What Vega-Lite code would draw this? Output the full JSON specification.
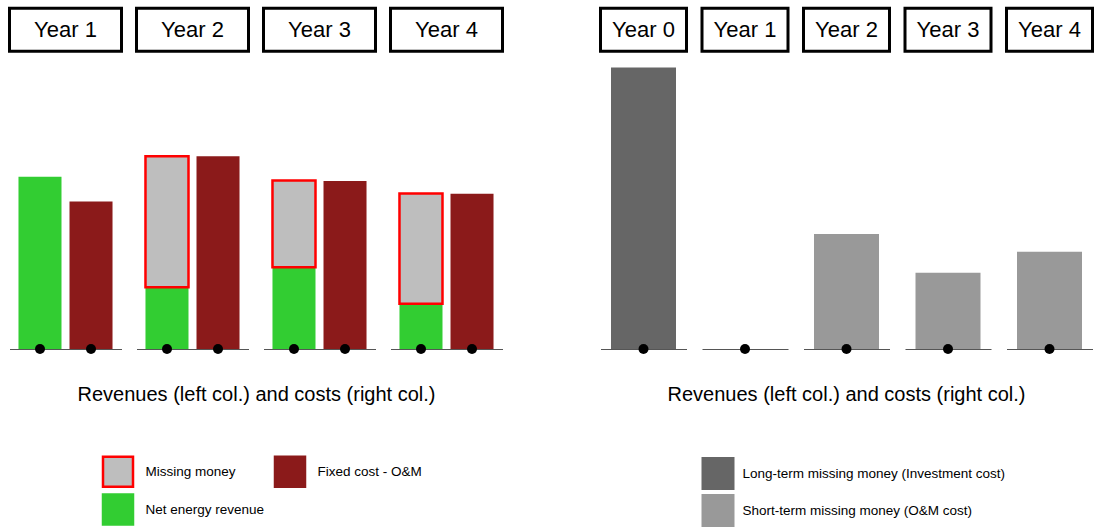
{
  "$schema": "https://vega.github.io/schema/vega-lite/v6.json",
  "padding": {"left": 7.5, "top": 2, "right": 0, "bottom": 0},
  "background": "white",
  "config": {
    "view": {"stroke": null},
    "font": "Liberation Sans"
  },
  "datasets": {
    "left": [
      {"year": "Year 1", "col": "Revenue", "type": "Net energy revenue", "value": 89.4},
      {"year": "Year 1", "col": "Cost", "type": "Fixed cost - O&M", "value": 76.5},
      {"year": "Year 2", "col": "Revenue", "type": "Net energy revenue", "value": 32},
      {"year": "Year 2", "col": "Revenue", "type": "Missing money", "value": 68},
      {"year": "Year 2", "col": "Cost", "type": "Fixed cost - O&M", "value": 100},
      {"year": "Year 3", "col": "Revenue", "type": "Net energy revenue", "value": 42.4},
      {"year": "Year 3", "col": "Revenue", "type": "Missing money", "value": 45},
      {"year": "Year 3", "col": "Cost", "type": "Fixed cost - O&M", "value": 87.2},
      {"year": "Year 4", "col": "Revenue", "type": "Net energy revenue", "value": 23.5},
      {"year": "Year 4", "col": "Revenue", "type": "Missing money", "value": 57.2},
      {"year": "Year 4", "col": "Cost", "type": "Fixed cost - O&M", "value": 80.5}
    ],
    "right": [
      {"year": "Year 0", "col": "Missing", "type": "Long-term missing money (Investment cost)", "value": 146},
      {"year": "Year 1", "col": "Missing", "type": "Short-term missing money (O&M cost)", "value": 0},
      {"year": "Year 2", "col": "Missing", "type": "Short-term missing money (O&M cost)", "value": 59.7},
      {"year": "Year 3", "col": "Missing", "type": "Short-term missing money (O&M cost)", "value": 39.5},
      {"year": "Year 4", "col": "Missing", "type": "Short-term missing money (O&M cost)", "value": 50.4}
    ]
  },
  "hconcat": [
    {
      "data": {"name": "left"},
      "facet": {
        "column": {
          "field": "year", "type": "nominal",
          "title": "Revenues (left col.) and costs (right col.)",
          "header": {"labels": false, "titleOrient": "bottom", "titleFontSize": 20, "titleFontWeight": "normal", "titleColor": "black", "titleFont": "Liberation Sans", "titlePadding": 26}
        }
      },
      "spacing": 15,
      "bounds": "flush",
      "spec": {
        "width": 112,
        "height": 347,
        "layer": [
          {
            "mark": {"type": "bar"},
            "encoding": {
              "x": {"field": "col", "type": "nominal", "sort": ["Revenue", "Cost"],
                    "scale": {"paddingInner": 0.157, "paddingOuter": 0.176},
                    "axis": {"title": null, "labels": false, "ticks": false, "domain": true, "domainColor": "#555555", "domainWidth": 1.2, "grid": false}},
              "y": {"field": "value", "type": "quantitative", "stack": "zero", "scale": {"domain": [0, 180]}, "axis": null},
              "fill": {"field": "type", "type": "nominal",
                       "scale": {"domain": ["Missing money", "Fixed cost - O&M", "Net energy revenue"], "range": ["#BEBEBE", "#8B1A1A", "#32CD32"]},
                       "legend": {"title": null, "orient": "none", "legendX": 92, "legendY": 453, "direction": "horizontal", "columns": 2, "symbolType": "square", "symbolSize": 900, "symbolStrokeWidth": 2.5, "labelFontSize": 13.5, "labelFont": "Liberation Sans", "labelColor": "black", "labelOffset": 11, "labelLimit": 400, "rowPadding": -3, "columnPadding": 5}},
              "stroke": {"field": "type", "type": "nominal",
                         "scale": {"domain": ["Missing money", "Fixed cost - O&M", "Net energy revenue"], "range": ["#FF0000", "#8B1A1A", "#32CD32"]},
                         "legend": {"title": null, "orient": "none", "legendX": 92, "legendY": 453, "direction": "horizontal", "columns": 2, "symbolType": "square", "symbolSize": 900, "symbolStrokeWidth": 2.5, "labelFontSize": 13.5, "labelFont": "Liberation Sans", "labelColor": "black", "labelOffset": 11, "labelLimit": 400, "rowPadding": -3, "columnPadding": 5}},
              "strokeWidth": {"condition": {"test": "datum.type === 'Missing money'", "value": 2.5}, "value": 0},
              "order": {"field": "type", "sort": "descending"}
            }
          },
          {
            "transform": [{"filter": "datum.type !== 'Missing money'"}],
            "mark": {"type": "point", "filled": true, "color": "black", "size": 100, "opacity": 1},
            "encoding": {
              "x": {"field": "col", "type": "nominal", "sort": ["Revenue", "Cost"]},
              "y": {"datum": 0, "type": "quantitative"}
            }
          },
          {
            "transform": [{"filter": "datum.type === 'Fixed cost - O&M'"}],
            "mark": {"type": "rect", "fill": "white", "stroke": "black", "strokeWidth": 3},
            "encoding": {
              "y": {"datum": 154.5, "type": "quantitative"},
              "y2": {"datum": 176.8}
            }
          },
          {
            "transform": [{"filter": "datum.type === 'Fixed cost - O&M'"}],
            "mark": {"type": "text", "fontSize": 22, "font": "Liberation Sans", "color": "black", "baseline": "middle", "align": "center"},
            "encoding": {
              "y": {"datum": 165.7, "type": "quantitative"},
              "text": {"field": "year"}
            }
          }
        ]
      }
    },
    {
      "data": {"name": "right"},
      "facet": {
        "column": {
          "field": "year", "type": "nominal",
          "title": "Revenues (left col.) and costs (right col.)",
          "header": {"labels": false, "titleOrient": "bottom", "titleFontSize": 20, "titleFontWeight": "normal", "titleColor": "black", "titleFont": "Liberation Sans", "titlePadding": 26}
        }
      },
      "spacing": 15.5,
      "bounds": "flush",
      "spec": {
        "width": 86,
        "height": 347,
        "layer": [
          {
            "mark": {"type": "bar"},
            "encoding": {
              "x": {"field": "col", "type": "nominal",
                    "scale": {"paddingInner": 0, "paddingOuter": 0.1615},
                    "axis": {"title": null, "labels": false, "ticks": false, "domain": true, "domainColor": "#555555", "domainWidth": 1.2, "grid": false}},
              "y": {"field": "value", "type": "quantitative", "scale": {"domain": [0, 180]}, "axis": null},
              "fill": {"field": "type", "type": "nominal",
                       "scale": {"domain": ["Long-term missing money (Investment cost)", "Short-term missing money (O&M cost)"], "range": ["#666666", "#999999"]},
                       "legend": {"title": null, "orient": "none", "legendX": 101, "legendY": 455, "direction": "vertical", "columns": 1, "symbolType": "square", "symbolSize": 1089, "symbolStrokeWidth": 0, "labelFontSize": 13.5, "labelFont": "Liberation Sans", "labelColor": "black", "labelOffset": 8, "labelLimit": 400, "rowPadding": 4}}
            }
          },
          {
            "mark": {"type": "point", "filled": true, "color": "black", "size": 100, "opacity": 1},
            "encoding": {
              "x": {"field": "col", "type": "nominal"},
              "y": {"datum": 0, "type": "quantitative"}
            }
          },
          {
            "mark": {"type": "rect", "fill": "white", "stroke": "black", "strokeWidth": 3},
            "encoding": {
              "y": {"datum": 154.5, "type": "quantitative"},
              "y2": {"datum": 176.8}
            }
          },
          {
            "mark": {"type": "text", "fontSize": 22, "font": "Liberation Sans", "color": "black", "baseline": "middle", "align": "center"},
            "encoding": {
              "y": {"datum": 165.7, "type": "quantitative"},
              "text": {"field": "year"}
            }
          }
        ]
      }
    }
  ],
  "spacing": 94,
  "resolve": {
    "scale": {"x": "independent", "y": "independent", "fill": "independent", "stroke": "independent"},
    "legend": {"fill": "independent", "stroke": "independent"}
  }
}
